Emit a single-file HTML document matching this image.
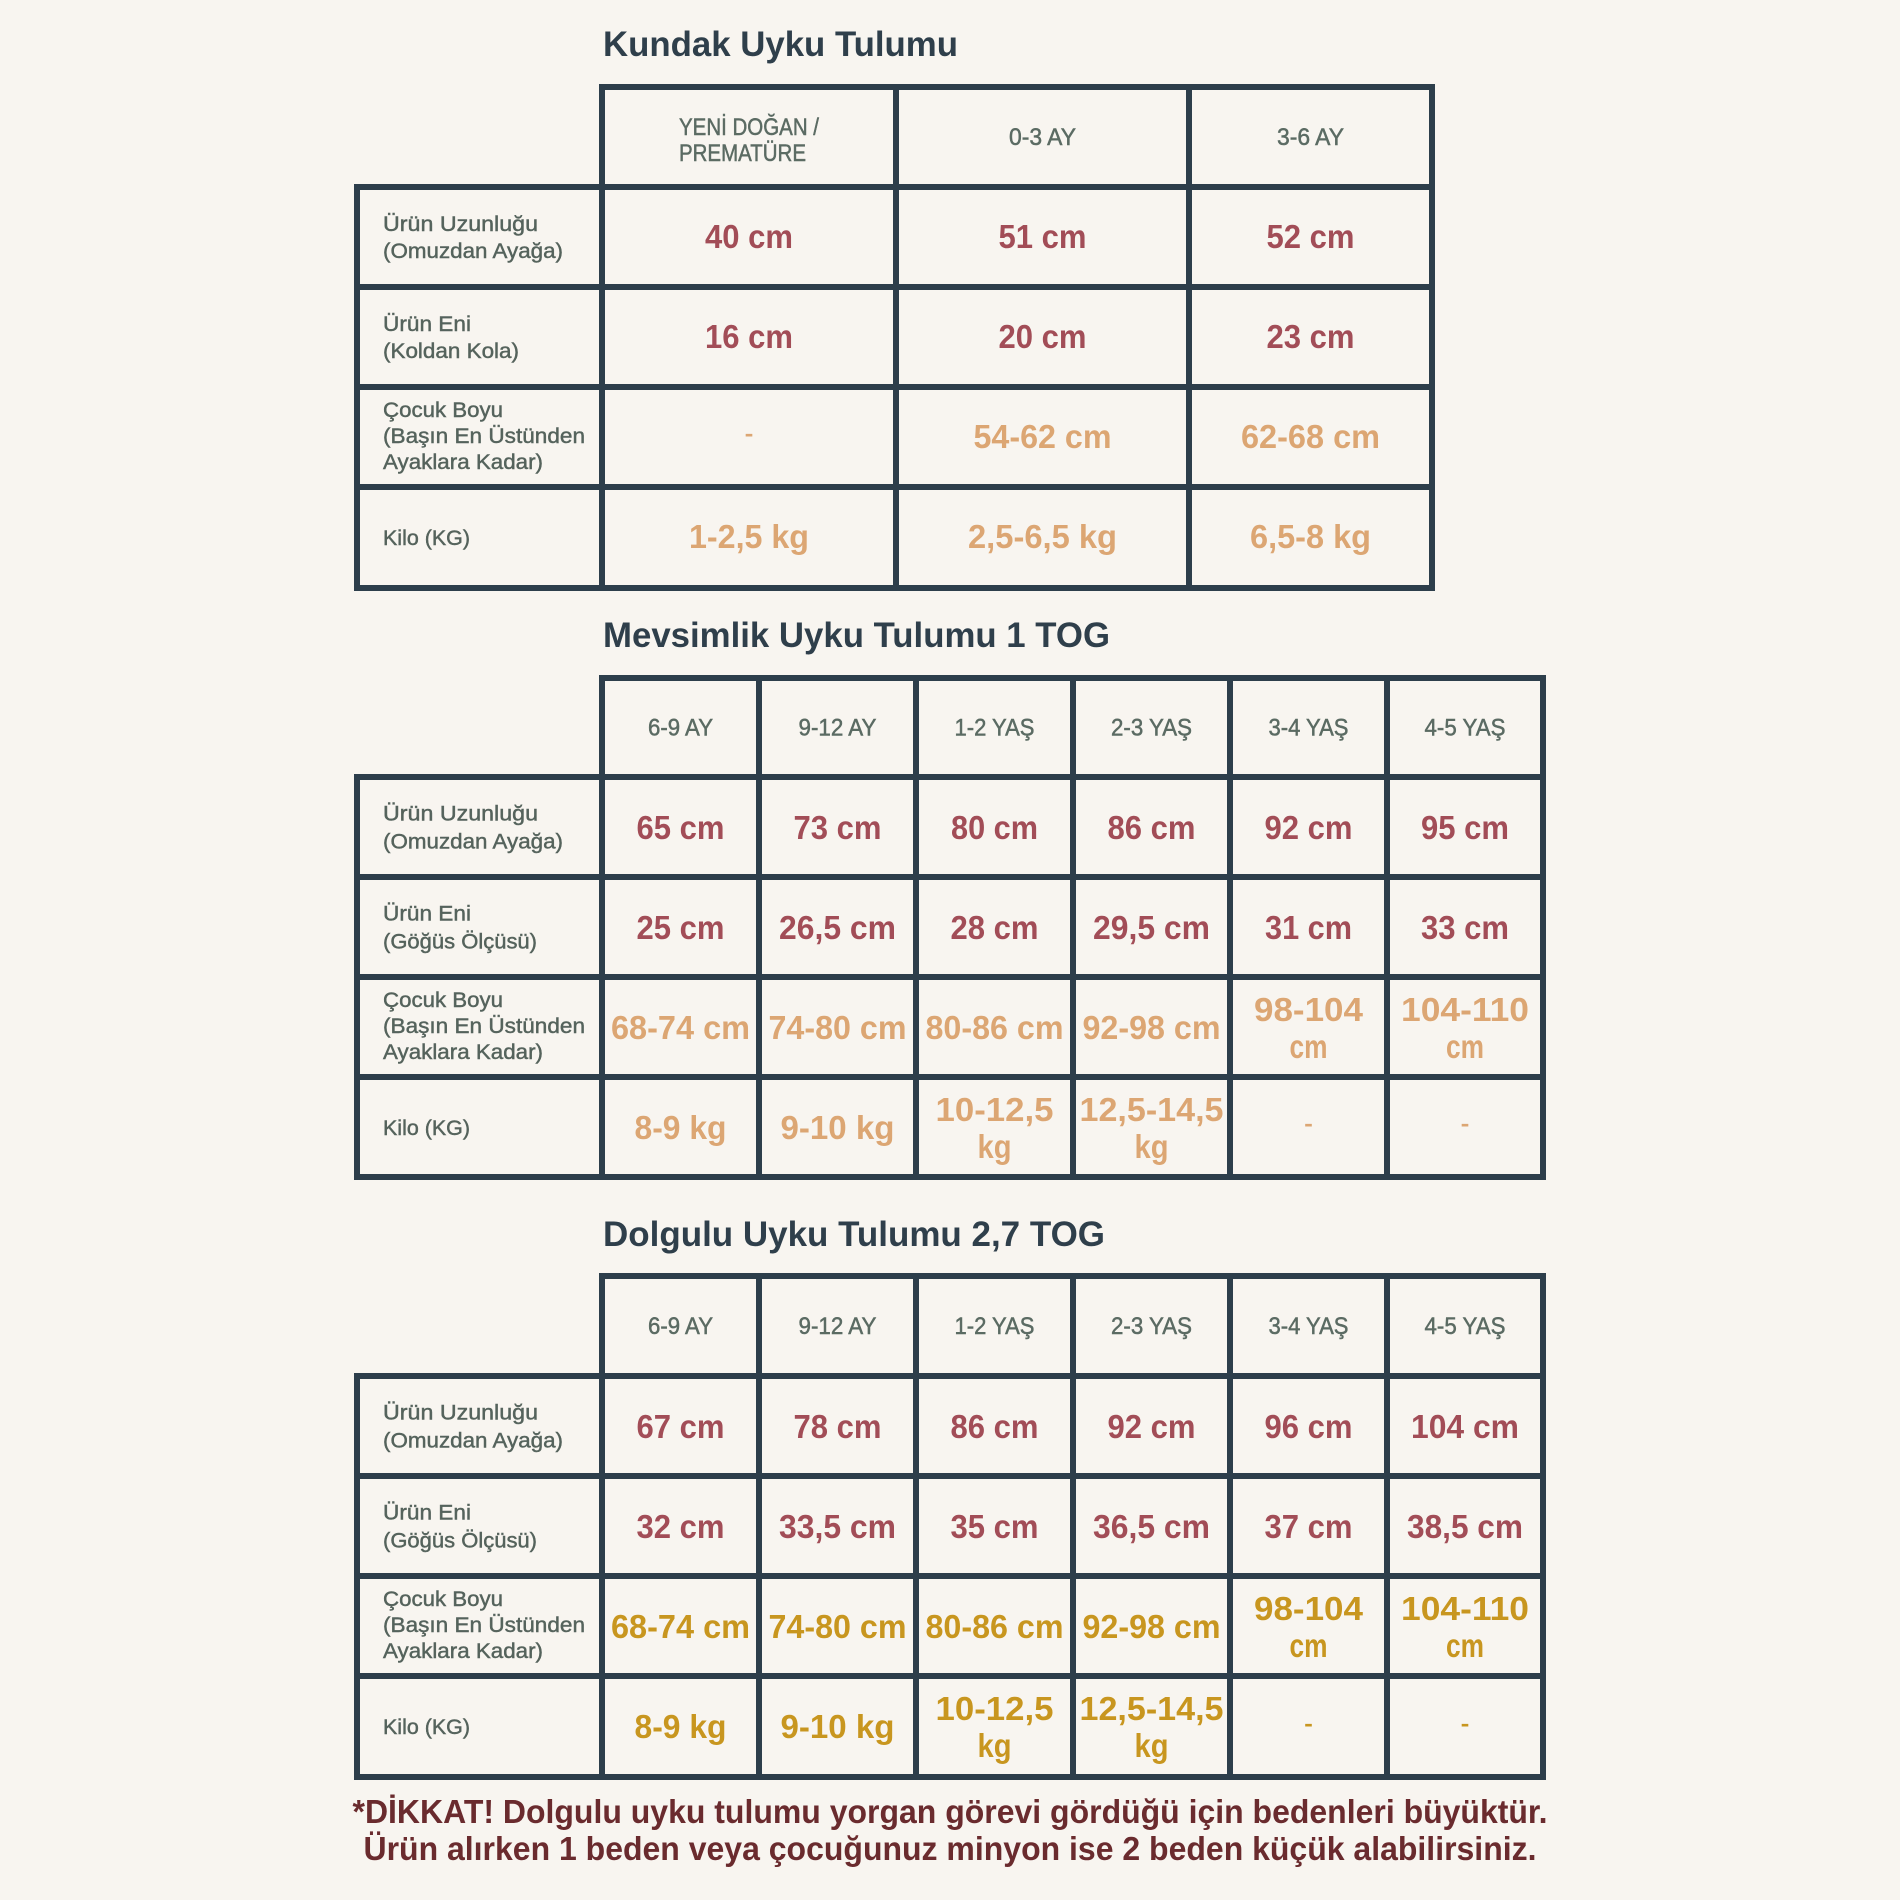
<!DOCTYPE html>
<html><head><meta charset="utf-8"><style>
html,body{margin:0;padding:0;background:#f8f5f0;}
svg{display:block;}
text{font-family:"Liberation Sans",sans-serif;}
.t{font-size:35px;font-weight:bold;fill:#2f3f4b;}
.h{font-size:24px;fill:#5b6b63;stroke:#5b6b63;stroke-width:0.5px;}
.l{font-size:21.5px;fill:#55635c;stroke:#55635c;stroke-width:0.45px;}
.r{font-size:33px;font-weight:bold;fill:#a24d57;}
.o{font-size:33px;font-weight:bold;fill:#dca673;}
.g{font-size:33px;font-weight:bold;fill:#c8961f;}
.f{font-size:33px;font-weight:bold;fill:#6a2b2e;}
line{stroke:#2d3e4b;stroke-width:6;stroke-linecap:square;}
</style></head><body>
<svg width="1900" height="1900" viewBox="0 0 1900 1900" xmlns="http://www.w3.org/2000/svg">
<rect width="1900" height="1900" fill="#f8f5f0"/>

<!-- ============ TABLE 1 ============ -->
<text class="t" x="603" y="56" textLength="355" lengthAdjust="spacingAndGlyphs">Kundak Uyku Tulumu</text>
<g>
<line x1="602" y1="87" x2="1432" y2="87"/>
<line x1="357" y1="187" x2="1432" y2="187"/>
<line x1="357" y1="287" x2="1432" y2="287"/>
<line x1="357" y1="387" x2="1432" y2="387"/>
<line x1="357" y1="487" x2="1432" y2="487"/>
<line x1="357" y1="588" x2="1432" y2="588"/>
<line x1="357" y1="187" x2="357" y2="588"/>
<line x1="602" y1="87" x2="602" y2="588"/>
<line x1="896" y1="87" x2="896" y2="588"/>
<line x1="1189" y1="87" x2="1189" y2="588"/>
<line x1="1432" y1="87" x2="1432" y2="588"/>
</g>
<text class="h" x="679" y="135" textLength="140" lengthAdjust="spacingAndGlyphs">YENİ DOĞAN /</text>
<text class="h" x="679" y="161" textLength="127" lengthAdjust="spacingAndGlyphs">PREMATÜRE</text>
<text class="h" x="1042.5" y="145" text-anchor="middle" textLength="67" lengthAdjust="spacingAndGlyphs">0-3 AY</text>
<text class="h" x="1310.5" y="145" text-anchor="middle" textLength="67" lengthAdjust="spacingAndGlyphs">3-6 AY</text>

<text class="l" x="383" y="231" textLength="155" lengthAdjust="spacingAndGlyphs">Ürün Uzunluğu</text>
<text class="l" x="383" y="258" textLength="180" lengthAdjust="spacingAndGlyphs">(Omuzdan Ayağa)</text>
<text class="l" x="383" y="331" textLength="88" lengthAdjust="spacingAndGlyphs">Ürün Eni</text>
<text class="l" x="383" y="358" textLength="136" lengthAdjust="spacingAndGlyphs">(Koldan Kola)</text>
<text class="l" x="383" y="417" textLength="120" lengthAdjust="spacingAndGlyphs">Çocuk Boyu</text>
<text class="l" x="383" y="443" textLength="202" lengthAdjust="spacingAndGlyphs">(Başın En Üstünden</text>
<text class="l" x="383" y="469" textLength="160" lengthAdjust="spacingAndGlyphs">Ayaklara Kadar)</text>
<text class="l" x="383" y="545" textLength="87" lengthAdjust="spacingAndGlyphs">Kilo (KG)</text>

<text class="r" x="749" y="248" text-anchor="middle" textLength="88" lengthAdjust="spacingAndGlyphs">40 cm</text>
<text class="r" x="1042.5" y="248" text-anchor="middle" textLength="88" lengthAdjust="spacingAndGlyphs">51 cm</text>
<text class="r" x="1310.5" y="248" text-anchor="middle" textLength="88" lengthAdjust="spacingAndGlyphs">52 cm</text>
<text class="r" x="749" y="348" text-anchor="middle" textLength="88" lengthAdjust="spacingAndGlyphs">16 cm</text>
<text class="r" x="1042.5" y="348" text-anchor="middle" textLength="88" lengthAdjust="spacingAndGlyphs">20 cm</text>
<text class="r" x="1310.5" y="348" text-anchor="middle" textLength="88" lengthAdjust="spacingAndGlyphs">23 cm</text>
<text class="o" x="749" y="444" text-anchor="middle" style="font-weight:normal" textLength="9" lengthAdjust="spacingAndGlyphs">-</text>
<text class="o" x="1042.5" y="448" text-anchor="middle" textLength="138" lengthAdjust="spacingAndGlyphs">54-62 cm</text>
<text class="o" x="1310.5" y="448" text-anchor="middle" textLength="139" lengthAdjust="spacingAndGlyphs">62-68 cm</text>
<text class="o" x="749" y="548" text-anchor="middle" textLength="120" lengthAdjust="spacingAndGlyphs">1-2,5 kg</text>
<text class="o" x="1042.5" y="548" text-anchor="middle" textLength="149" lengthAdjust="spacingAndGlyphs">2,5-6,5 kg</text>
<text class="o" x="1310.5" y="548" text-anchor="middle" textLength="121" lengthAdjust="spacingAndGlyphs">6,5-8 kg</text>

<!-- ============ TABLE 2 ============ -->
<text class="t" x="603" y="647" textLength="507" lengthAdjust="spacingAndGlyphs">Mevsimlik Uyku Tulumu 1 TOG</text>
<g>
<line x1="602" y1="678" x2="1543" y2="678"/>
<line x1="357" y1="777" x2="1543" y2="777"/>
<line x1="357" y1="877" x2="1543" y2="877"/>
<line x1="357" y1="977" x2="1543" y2="977"/>
<line x1="357" y1="1077" x2="1543" y2="1077"/>
<line x1="357" y1="1177" x2="1543" y2="1177"/>
<line x1="357" y1="777" x2="357" y2="1177"/>
<line x1="602" y1="678" x2="602" y2="1177"/>
<line x1="759" y1="678" x2="759" y2="1177"/>
<line x1="916" y1="678" x2="916" y2="1177"/>
<line x1="1073" y1="678" x2="1073" y2="1177"/>
<line x1="1230" y1="678" x2="1230" y2="1177"/>
<line x1="1387" y1="678" x2="1387" y2="1177"/>
<line x1="1543" y1="678" x2="1543" y2="1177"/>
</g>
<text class="h" x="680.5" y="735.5" text-anchor="middle" textLength="65" lengthAdjust="spacingAndGlyphs">6-9 AY</text>
<text class="h" x="837.5" y="735.5" text-anchor="middle" textLength="78" lengthAdjust="spacingAndGlyphs">9-12 AY</text>
<text class="h" x="994.5" y="735.5" text-anchor="middle" textLength="80" lengthAdjust="spacingAndGlyphs">1-2 YAŞ</text>
<text class="h" x="1151.5" y="735.5" text-anchor="middle" textLength="81" lengthAdjust="spacingAndGlyphs">2-3 YAŞ</text>
<text class="h" x="1308.5" y="735.5" text-anchor="middle" textLength="80" lengthAdjust="spacingAndGlyphs">3-4 YAŞ</text>
<text class="h" x="1465" y="735.5" text-anchor="middle" textLength="81" lengthAdjust="spacingAndGlyphs">4-5 YAŞ</text>

<text class="l" x="383" y="820.5" textLength="155" lengthAdjust="spacingAndGlyphs">Ürün Uzunluğu</text>
<text class="l" x="383" y="848.5" textLength="180" lengthAdjust="spacingAndGlyphs">(Omuzdan Ayağa)</text>
<text class="l" x="383" y="920.5" textLength="88" lengthAdjust="spacingAndGlyphs">Ürün Eni</text>
<text class="l" x="383" y="948.5" textLength="154" lengthAdjust="spacingAndGlyphs">(Göğüs Ölçüsü)</text>
<text class="l" x="383" y="1007" textLength="120" lengthAdjust="spacingAndGlyphs">Çocuk Boyu</text>
<text class="l" x="383" y="1033" textLength="202" lengthAdjust="spacingAndGlyphs">(Başın En Üstünden</text>
<text class="l" x="383" y="1059" textLength="160" lengthAdjust="spacingAndGlyphs">Ayaklara Kadar)</text>
<text class="l" x="383" y="1135" textLength="87" lengthAdjust="spacingAndGlyphs">Kilo (KG)</text>

<text class="r" x="680.5" y="839" text-anchor="middle" textLength="88" lengthAdjust="spacingAndGlyphs">65 cm</text>
<text class="r" x="837.5" y="839" text-anchor="middle" textLength="88" lengthAdjust="spacingAndGlyphs">73 cm</text>
<text class="r" x="994.5" y="839" text-anchor="middle" textLength="87" lengthAdjust="spacingAndGlyphs">80 cm</text>
<text class="r" x="1151.5" y="839" text-anchor="middle" textLength="88" lengthAdjust="spacingAndGlyphs">86 cm</text>
<text class="r" x="1308.5" y="839" text-anchor="middle" textLength="88" lengthAdjust="spacingAndGlyphs">92 cm</text>
<text class="r" x="1465" y="839" text-anchor="middle" textLength="88" lengthAdjust="spacingAndGlyphs">95 cm</text>
<text class="r" x="680.5" y="939" text-anchor="middle" textLength="88" lengthAdjust="spacingAndGlyphs">25 cm</text>
<text class="r" x="837.5" y="939" text-anchor="middle" textLength="117" lengthAdjust="spacingAndGlyphs">26,5 cm</text>
<text class="r" x="994.5" y="939" text-anchor="middle" textLength="88" lengthAdjust="spacingAndGlyphs">28 cm</text>
<text class="r" x="1151.5" y="939" text-anchor="middle" textLength="117" lengthAdjust="spacingAndGlyphs">29,5 cm</text>
<text class="r" x="1308.5" y="939" text-anchor="middle" textLength="87" lengthAdjust="spacingAndGlyphs">31 cm</text>
<text class="r" x="1465" y="939" text-anchor="middle" textLength="88" lengthAdjust="spacingAndGlyphs">33 cm</text>

<text class="o" x="680.5" y="1039" text-anchor="middle" textLength="139" lengthAdjust="spacingAndGlyphs">68-74 cm</text>
<text class="o" x="837.5" y="1039" text-anchor="middle" textLength="138" lengthAdjust="spacingAndGlyphs">74-80 cm</text>
<text class="o" x="994.5" y="1039" text-anchor="middle" textLength="138" lengthAdjust="spacingAndGlyphs">80-86 cm</text>
<text class="o" x="1151.5" y="1039" text-anchor="middle" textLength="138" lengthAdjust="spacingAndGlyphs">92-98 cm</text>
<text class="o" x="1308.5" y="1021" text-anchor="middle" textLength="109" lengthAdjust="spacingAndGlyphs">98-104</text>
<text class="o" x="1308.5" y="1058" text-anchor="middle" textLength="38" lengthAdjust="spacingAndGlyphs">cm</text>
<text class="o" x="1465" y="1021" text-anchor="middle" textLength="128" lengthAdjust="spacingAndGlyphs">104-110</text>
<text class="o" x="1465" y="1058" text-anchor="middle" textLength="38" lengthAdjust="spacingAndGlyphs">cm</text>

<text class="o" x="680.5" y="1139" text-anchor="middle" textLength="92" lengthAdjust="spacingAndGlyphs">8-9 kg</text>
<text class="o" x="837.5" y="1139" text-anchor="middle" textLength="114" lengthAdjust="spacingAndGlyphs">9-10 kg</text>
<text class="o" x="994.5" y="1121" text-anchor="middle" textLength="118" lengthAdjust="spacingAndGlyphs">10-12,5</text>
<text class="o" x="994.5" y="1158" text-anchor="middle" textLength="34" lengthAdjust="spacingAndGlyphs">kg</text>
<text class="o" x="1151.5" y="1121" text-anchor="middle" textLength="144" lengthAdjust="spacingAndGlyphs">12,5-14,5</text>
<text class="o" x="1151.5" y="1158" text-anchor="middle" textLength="34" lengthAdjust="spacingAndGlyphs">kg</text>
<text class="o" x="1308.5" y="1134" text-anchor="middle" style="font-weight:normal" textLength="9" lengthAdjust="spacingAndGlyphs">-</text>
<text class="o" x="1465" y="1134" text-anchor="middle" style="font-weight:normal" textLength="9" lengthAdjust="spacingAndGlyphs">-</text>

<!-- ============ TABLE 3 ============ -->
<text class="t" x="603" y="1246" textLength="502" lengthAdjust="spacingAndGlyphs">Dolgulu Uyku Tulumu 2,7 TOG</text>
<g>
<line x1="602" y1="1276" x2="1543" y2="1276"/>
<line x1="357" y1="1376" x2="1543" y2="1376"/>
<line x1="357" y1="1476" x2="1543" y2="1476"/>
<line x1="357" y1="1576" x2="1543" y2="1576"/>
<line x1="357" y1="1676" x2="1543" y2="1676"/>
<line x1="357" y1="1777" x2="1543" y2="1777"/>
<line x1="357" y1="1376" x2="357" y2="1777"/>
<line x1="602" y1="1276" x2="602" y2="1777"/>
<line x1="759" y1="1276" x2="759" y2="1777"/>
<line x1="916" y1="1276" x2="916" y2="1777"/>
<line x1="1073" y1="1276" x2="1073" y2="1777"/>
<line x1="1230" y1="1276" x2="1230" y2="1777"/>
<line x1="1387" y1="1276" x2="1387" y2="1777"/>
<line x1="1543" y1="1276" x2="1543" y2="1777"/>
</g>
<text class="h" x="680.5" y="1334" text-anchor="middle" textLength="65" lengthAdjust="spacingAndGlyphs">6-9 AY</text>
<text class="h" x="837.5" y="1334" text-anchor="middle" textLength="78" lengthAdjust="spacingAndGlyphs">9-12 AY</text>
<text class="h" x="994.5" y="1334" text-anchor="middle" textLength="80" lengthAdjust="spacingAndGlyphs">1-2 YAŞ</text>
<text class="h" x="1151.5" y="1334" text-anchor="middle" textLength="81" lengthAdjust="spacingAndGlyphs">2-3 YAŞ</text>
<text class="h" x="1308.5" y="1334" text-anchor="middle" textLength="80" lengthAdjust="spacingAndGlyphs">3-4 YAŞ</text>
<text class="h" x="1465" y="1334" text-anchor="middle" textLength="81" lengthAdjust="spacingAndGlyphs">4-5 YAŞ</text>

<text class="l" x="383" y="1419.5" textLength="155" lengthAdjust="spacingAndGlyphs">Ürün Uzunluğu</text>
<text class="l" x="383" y="1447.5" textLength="180" lengthAdjust="spacingAndGlyphs">(Omuzdan Ayağa)</text>
<text class="l" x="383" y="1519.5" textLength="88" lengthAdjust="spacingAndGlyphs">Ürün Eni</text>
<text class="l" x="383" y="1547.5" textLength="154" lengthAdjust="spacingAndGlyphs">(Göğüs Ölçüsü)</text>
<text class="l" x="383" y="1606" textLength="120" lengthAdjust="spacingAndGlyphs">Çocuk Boyu</text>
<text class="l" x="383" y="1632" textLength="202" lengthAdjust="spacingAndGlyphs">(Başın En Üstünden</text>
<text class="l" x="383" y="1658" textLength="160" lengthAdjust="spacingAndGlyphs">Ayaklara Kadar)</text>
<text class="l" x="383" y="1734" textLength="87" lengthAdjust="spacingAndGlyphs">Kilo (KG)</text>

<text class="r" x="680.5" y="1438" text-anchor="middle" textLength="88" lengthAdjust="spacingAndGlyphs">67 cm</text>
<text class="r" x="837.5" y="1438" text-anchor="middle" textLength="88" lengthAdjust="spacingAndGlyphs">78 cm</text>
<text class="r" x="994.5" y="1438" text-anchor="middle" textLength="88" lengthAdjust="spacingAndGlyphs">86 cm</text>
<text class="r" x="1151.5" y="1438" text-anchor="middle" textLength="88" lengthAdjust="spacingAndGlyphs">92 cm</text>
<text class="r" x="1308.5" y="1438" text-anchor="middle" textLength="88" lengthAdjust="spacingAndGlyphs">96 cm</text>
<text class="r" x="1465" y="1438" text-anchor="middle" textLength="108" lengthAdjust="spacingAndGlyphs">104 cm</text>
<text class="r" x="680.5" y="1538" text-anchor="middle" textLength="88" lengthAdjust="spacingAndGlyphs">32 cm</text>
<text class="r" x="837.5" y="1538" text-anchor="middle" textLength="117" lengthAdjust="spacingAndGlyphs">33,5 cm</text>
<text class="r" x="994.5" y="1538" text-anchor="middle" textLength="88" lengthAdjust="spacingAndGlyphs">35 cm</text>
<text class="r" x="1151.5" y="1538" text-anchor="middle" textLength="117" lengthAdjust="spacingAndGlyphs">36,5 cm</text>
<text class="r" x="1308.5" y="1538" text-anchor="middle" textLength="88" lengthAdjust="spacingAndGlyphs">37 cm</text>
<text class="r" x="1465" y="1538" text-anchor="middle" textLength="116" lengthAdjust="spacingAndGlyphs">38,5 cm</text>

<text class="g" x="680.5" y="1638" text-anchor="middle" textLength="139" lengthAdjust="spacingAndGlyphs">68-74 cm</text>
<text class="g" x="837.5" y="1638" text-anchor="middle" textLength="138" lengthAdjust="spacingAndGlyphs">74-80 cm</text>
<text class="g" x="994.5" y="1638" text-anchor="middle" textLength="138" lengthAdjust="spacingAndGlyphs">80-86 cm</text>
<text class="g" x="1151.5" y="1638" text-anchor="middle" textLength="138" lengthAdjust="spacingAndGlyphs">92-98 cm</text>
<text class="g" x="1308.5" y="1620" text-anchor="middle" textLength="109" lengthAdjust="spacingAndGlyphs">98-104</text>
<text class="g" x="1308.5" y="1657" text-anchor="middle" textLength="38" lengthAdjust="spacingAndGlyphs">cm</text>
<text class="g" x="1465" y="1620" text-anchor="middle" textLength="128" lengthAdjust="spacingAndGlyphs">104-110</text>
<text class="g" x="1465" y="1657" text-anchor="middle" textLength="38" lengthAdjust="spacingAndGlyphs">cm</text>

<text class="g" x="680.5" y="1738" text-anchor="middle" textLength="92" lengthAdjust="spacingAndGlyphs">8-9 kg</text>
<text class="g" x="837.5" y="1738" text-anchor="middle" textLength="114" lengthAdjust="spacingAndGlyphs">9-10 kg</text>
<text class="g" x="994.5" y="1720" text-anchor="middle" textLength="118" lengthAdjust="spacingAndGlyphs">10-12,5</text>
<text class="g" x="994.5" y="1757" text-anchor="middle" textLength="34" lengthAdjust="spacingAndGlyphs">kg</text>
<text class="g" x="1151.5" y="1720" text-anchor="middle" textLength="144" lengthAdjust="spacingAndGlyphs">12,5-14,5</text>
<text class="g" x="1151.5" y="1757" text-anchor="middle" textLength="34" lengthAdjust="spacingAndGlyphs">kg</text>
<text class="g" x="1308.5" y="1734" text-anchor="middle" style="font-weight:normal" textLength="9" lengthAdjust="spacingAndGlyphs">-</text>
<text class="g" x="1465" y="1734" text-anchor="middle" style="font-weight:normal" textLength="9" lengthAdjust="spacingAndGlyphs">-</text>

<!-- ============ FOOTER ============ -->
<text class="f" x="950" y="1823" text-anchor="middle" textLength="1195" lengthAdjust="spacingAndGlyphs">*DİKKAT! Dolgulu uyku tulumu yorgan görevi gördüğü için bedenleri büyüktür.</text>
<text class="f" x="950" y="1860" text-anchor="middle" textLength="1173" lengthAdjust="spacingAndGlyphs">Ürün alırken 1 beden veya çocuğunuz minyon ise 2 beden küçük alabilirsiniz.</text>
</svg>
</body></html>
